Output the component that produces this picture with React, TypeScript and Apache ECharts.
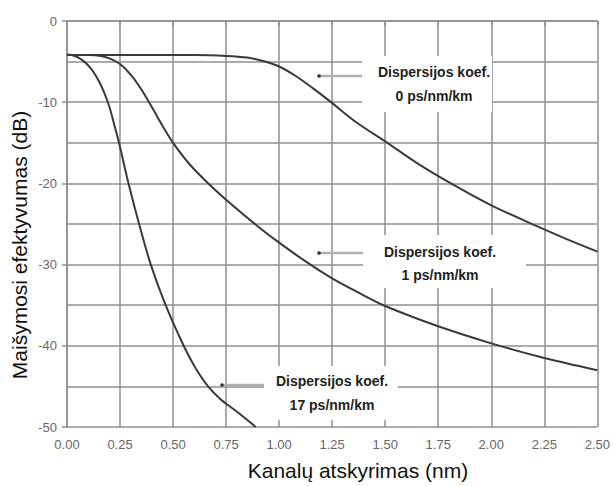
import React, { useEffect, useRef } from 'react';
import * as echarts from 'echarts';

// Channel spacing (nm) vs. mixing efficiency (dB)
const curveD0: [number, number][] = [
  [0, -4.2], [0.3, -4.2], [0.6, -4.2], [0.75, -4.3], [0.85, -4.5], [0.92, -4.9],
  [1.0, -5.6], [1.08, -6.8], [1.16, -8.3], [1.24, -9.9], [1.36, -12.4], [1.51, -15],
  [1.65, -17.5], [1.81, -20], [2.0, -22.7], [2.21, -25.2], [2.35, -26.8], [2.5, -28.4],
];
const curveD1: [number, number][] = [
  [0, -4.2], [0.1, -4.2], [0.16, -4.3], [0.2, -4.6], [0.25, -5.3], [0.3, -6.6],
  [0.35, -8.4], [0.4, -10.6], [0.45, -12.9], [0.5, -15], [0.58, -17.7], [0.67, -20.1],
  [0.78, -22.7], [0.9, -25.3], [1.0, -27.3], [1.13, -29.7], [1.25, -31.7], [1.37, -33.4],
  [1.5, -35.1], [1.75, -37.6], [2.0, -39.7], [2.25, -41.5], [2.5, -43.0],
];
const curveD17: [number, number][] = [
  [0, -4.1], [0.03, -4.25], [0.06, -4.6], [0.09, -5.2], [0.12, -6.1], [0.15, -7.4],
  [0.175, -8.8], [0.2, -10.6], [0.222, -12.7], [0.245, -15], [0.29, -20], [0.34, -25],
  [0.395, -30], [0.465, -35], [0.55, -40], [0.605, -42.7], [0.665, -45], [0.725, -46.6],
  [0.8, -48.1], [0.89, -50],
];

const annotationHead = 'Dispersijos koef.';
const annotationValues = ['0 ps/nm/km', '1 ps/nm/km', '17 ps/nm/km'];
const xTitle = 'Kanalų atskyrimas (nm)';
const yTitle = 'Maišymosi efektyvumas (dB)';

const GRID = '#8f8f8f';
const CURVE = '#3a3a3a';

export default function App() {
  const ref = useRef<HTMLDivElement>(null);
  useEffect(() => {
    if (!ref.current) return;
    const chart = echarts.init(ref.current, undefined, { renderer: 'svg' });

    // annotation layout (pixels)
    const ann = [
      { dot: [319, 76], lineEnd: 362, box: [362, 56, 130, 56], cx: 434, y1: 72, y2: 96 },
      { dot: [319, 253], lineEnd: 363, box: [363, 235, 163, 53], cx: 440, y1: 252, y2: 275 },
      { dot: [222, 385], lineEnd: 264, box: [264, 366, 134, 54], cx: 332, y1: 381, y2: 405 },
    ];
    const graphics: any[] = [];
    ann.forEach((a, i) => {
      graphics.push({
        type: 'rect', z: 10,
        shape: { x: a.box[0], y: a.box[1], width: a.box[2], height: a.box[3] },
        style: { fill: '#ffffff' },
      });
      graphics.push({
        type: 'line', z: 11,
        shape: { x1: a.dot[0], y1: a.dot[1], x2: a.lineEnd, y2: a.dot[1] },
        style: { stroke: '#b0b0b0', lineWidth: 2.5 },
      });
      graphics.push({
        type: 'circle', z: 12,
        shape: { cx: a.dot[0], cy: a.dot[1], r: 1.8 },
        style: { fill: '#333' },
      });
      graphics.push({
        type: 'text', z: 12, x: a.cx, y: a.y1,
        style: { text: annotationHead, fill: '#222', font: 'bold 14px "Liberation Sans", Arial, sans-serif', align: 'center', verticalAlign: 'middle' },
      });
      graphics.push({
        type: 'text', z: 12, x: a.cx, y: a.y2,
        style: { text: annotationValues[i], fill: '#222', font: 'bold 14px "Liberation Sans", Arial, sans-serif', align: 'center', verticalAlign: 'middle' },
      });
    });
    graphics.push({
      type: 'text', z: 12, x: 358, y: 470,
      style: { text: xTitle, fill: '#111', font: '21px "Liberation Sans", Arial, sans-serif', align: 'center', verticalAlign: 'middle' },
    });
    graphics.push({
      type: 'text', z: 12, x: 19, y: 245, rotation: Math.PI / 2,
      style: { text: yTitle, fill: '#111', font: '21px "Liberation Sans", Arial, sans-serif', align: 'center', verticalAlign: 'middle' },
    });

    const mkSeries = (data: [number, number][]) => ({
      type: 'line', data, smooth: 0.3, showSymbol: false, symbol: 'none',
      lineStyle: { color: CURVE, width: 2 }, z: 3,
    });

    chart.setOption({
      animation: false,
      backgroundColor: '#ffffff',
      grid: { left: 67, right: 9, top: 21, bottom: 59, containLabel: false },
      xAxis: {
        type: 'value', min: 0, max: 2.5, interval: 0.25,
        axisLine: { show: true, lineStyle: { color: GRID, width: 1.5 } },
        axisTick: { show: true, length: 5, lineStyle: { color: GRID, width: 1.5 } },
        splitLine: { show: true, lineStyle: { color: GRID, width: 1.5 } },
        axisLabel: { color: '#666', fontSize: 13, fontFamily: '"Liberation Sans", Arial, sans-serif', margin: 11, formatter: (v: number) => v.toFixed(2) },
      },
      yAxis: {
        type: 'value', min: -50, max: 0, interval: 10,
        axisLine: { show: true, lineStyle: { color: GRID, width: 1.5 } },
        axisTick: { show: true, length: 5, lineStyle: { color: GRID, width: 1.5 } },
        splitLine: { show: true, lineStyle: { color: GRID, width: 1.5 } },
        minorTick: { show: false, splitNumber: 2 },
        minorSplitLine: { show: true, lineStyle: { color: GRID, width: 1.5 } },
        axisLabel: { color: '#666', fontSize: 13, fontFamily: '"Liberation Sans", Arial, sans-serif', margin: 10 },
      },
      series: [mkSeries(curveD0), mkSeries(curveD1), mkSeries(curveD17)],
      graphic: graphics,
    });
    return () => chart.dispose();
  }, []);
  return <div ref={ref} style={{ position: 'fixed', left: 0, top: 0, width: 613, height: 486 }} />;
}
